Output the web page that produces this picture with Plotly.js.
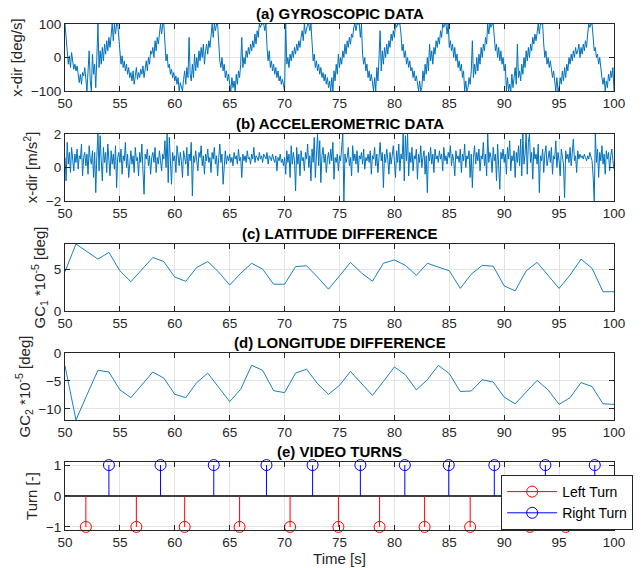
<!DOCTYPE html>
<html>
<head>
<meta charset="utf-8">
<script src="https://cdn.plot.ly/plotly-3.0.1.min.js"></script>
<style>html,body{margin:0;padding:0;background:#fff;}#chart{width:644px;height:568px;}</style>
</head>
<body>
<div id="chart"></div>
<script>
// ---------- DATA ----------
const sampleStart = 50;
const sampleStep = 0.1;
const gyroValues = [
100,60,10,-20,5,-30,15,-10,-35,-20,
-40,-25,-60,-75,-50,-80,-45,-55,-30,-60,
-100,-40,20,-70,-100,10,-50,-20,-90,0,
100,-30,20,-20,30,-10,40,10,50,20,
60,30,80,100,50,100,70,100,100,60,
10,-20,5,-30,-10,-40,-20,-50,-30,-60,
-45,-70,-40,-80,-55,-30,-65,-45,-60,-35,
-50,-25,-60,-30,-10,-40,0,-20,20,10,
30,0,50,20,60,40,80,100,70,100,
100,40,-10,10,-30,-20,-50,-35,-60,-45,
-70,-55,-80,-60,-100,-75,-90,-100,-65,-40,
-80,-30,-60,60,-50,-70,-20,-60,10,-40,
0,-30,20,-10,30,0,40,-20,20,40,
10,50,30,70,100,60,100,80,100,100,
40,-10,-30,0,-40,-20,-60,-40,-70,-50,
-80,-100,-60,-90,-70,-100,-50,-80,-40,-60,
-20,60,-30,0,-20,20,0,30,10,40,
20,50,30,70,40,80,60,100,90,100,
100,100,80,100,30,-10,20,-30,-10,-40,
-20,-50,-30,-60,-40,-70,-55,-80,-65,-90,
-100,100,-20,0,-30,10,-10,20,0,30,
10,40,20,50,30,60,80,50,100,70,
90,100,100,80,100,20,-10,10,-30,-10,
-40,-20,-50,-30,-60,-45,-70,-50,-80,-60,
-90,-70,-100,-60,-100,-40,-70,-20,-50,10,
-30,0,-20,20,0,40,10,50,30,60,
40,70,60,90,100,80,100,100,100,60,
100,10,-20,0,-40,-20,-60,-40,-70,-50,
-80,-100,-60,-100,-30,-70,0,80,-40,20,
-20,30,0,40,10,50,30,70,50,80,
60,100,90,100,100,100,70,20,40,0,
20,-20,0,-30,-10,-40,-30,-60,-40,-70,
-55,-80,-100,-70,-100,-90,-40,-70,-20,-50,
0,-40,40,-10,20,-20,30,10,50,30,
60,40,80,60,100,90,100,100,70,100,
30,50,20,40,0,30,-10,10,-30,-10,
-40,-20,-60,-40,-100,-70,-100,-90,-60,-80,
-40,50,-60,-20,-50,0,-40,10,-20,30,
0,40,20,60,40,100,70,100,90,100,
100,60,20,40,0,30,-10,20,-20,0,
-40,-20,-100,-60,-100,-80,-100,-50,-90,-60,
-30,-80,40,-60,-40,-70,-20,-50,0,-30,
20,-10,30,0,40,20,60,40,70,50,
80,100,70,100,100,100,40,0,20,-20,
0,-30,-10,-40,-60,-40,-70,-100,-60,-100,
-90,-60,-80,-40,-70,-30,-60,-20,-40,0,
-20,10,-10,20,0,30,10,20,40,0,
30,10,40,20,50,30,70,100,90,100,
100,40,20,30,0,10,-20,0,-40,-60,
-80,-60,-100,-70,-90,-50,-70,-40,-60,-30,
-100
];
const accelValues = [
0.6,-0.8,1.5,0.2,0.9,-0.3,1.2,0.4,-0.2,0.8,
0.3,1.1,-0.1,0.7,0.5,1.4,-0.5,0.6,0.9,0.1,
0.8,-0.4,1.3,0.5,0.2,1.0,-0.6,0.9,-1.5,0.7,
2.0,-0.2,1.9,0.4,-0.8,1.2,0.3,0.9,-0.3,1.4,
0.5,-0.5,1.0,0.2,0.8,-0.1,1.3,-1.2,0.6,0.9,
0.3,1.1,-0.4,0.7,0.4,1.5,0.0,0.8,-0.6,0.5,
1.0,0.2,0.7,-0.3,1.2,0.4,0.6,-0.5,0.9,0.3,
1.4,-0.2,-1.6,0.8,0.5,1.1,0.1,0.7,-0.4,0.6,
0.9,0.3,1.2,-0.3,0.6,0.2,1.0,0.4,-0.2,0.8,
0.5,1.6,0.0,2.0,-0.9,1.8,0.3,-1.0,0.9,0.4,
0.7,-0.3,1.3,0.5,0.1,0.9,0.4,-0.6,1.0,0.6,
0.2,1.2,-0.5,0.8,0.4,1.5,-1.7,0.7,0.3,1.0,
0.5,-0.2,0.9,0.6,1.3,0.1,0.7,-0.4,0.8,0.4,
1.1,0.3,0.6,-0.3,0.9,0.5,1.2,0.2,0.7,-0.5,
0.6,1.4,0.3,0.8,-1.0,0.5,1.0,0.2,0.7,0.4,
0.8,0.3,0.6,0.1,0.9,0.5,0.7,0.2,1.1,0.4,
0.6,-0.6,0.8,0.4,0.7,0.3,1.0,0.5,0.6,0.2,
0.8,0.5,1.2,0.3,0.7,0.6,0.4,0.9,0.5,0.7,
0.3,0.8,0.6,0.5,0.9,0.2,0.7,0.6,0.4,0.8,
0.5,0.3,0.7,-0.2,0.6,0.4,0.8,0.3,0.5,0.1,
0.6,-0.4,1.0,0.3,0.8,-0.6,1.3,0.2,0.9,0.4,
-1.4,1.2,0.2,0.8,-0.5,1.0,0.4,0.6,-0.2,0.9,
0.5,1.4,0.0,0.7,-0.8,1.1,0.3,1.8,-0.6,0.6,
2.0,0.1,1.6,-0.9,0.7,1.2,0.3,0.8,-0.3,0.5,
0.9,0.2,1.1,0.4,1.5,-0.7,0.6,0.3,0.8,-0.2,
0.7,0.4,1.0,2.0,-2.0,0.8,0.3,0.6,1.2,0.1,
0.6,-0.5,1.3,0.4,0.8,0.2,1.0,-0.3,0.7,0.5,
0.9,0.2,1.1,-0.1,0.6,0.4,0.8,0.3,1.0,-0.4,
0.7,0.5,1.2,0.1,0.8,-0.3,0.6,1.5,0.4,0.9,
-1.2,0.8,0.3,1.1,0.5,-0.4,0.9,0.2,0.7,1.3,
0.4,-0.6,1.0,0.3,1.4,-0.2,0.8,0.5,2.0,-0.8,
1.9,0.4,2.0,-0.5,0.9,0.3,1.2,-0.2,0.7,0.5,
1.1,-0.7,0.8,0.3,1.3,0.0,0.6,1.0,-0.4,0.7,
-1.5,0.9,0.4,1.2,0.2,0.8,-0.3,1.1,0.5,0.7,
0.3,1.0,0.5,0.8,-0.2,1.2,0.4,0.7,0.2,0.9,
0.6,1.3,0.1,0.8,0.4,-0.5,1.0,0.5,0.7,0.3,
1.1,-0.3,0.8,0.4,1.4,0.0,0.7,0.5,1.0,-0.6,
0.8,-1.2,0.6,1.3,0.2,0.9,0.4,1.1,-0.2,0.7,
0.5,1.5,0.1,0.8,-0.5,2.0,0.3,0.9,0.6,-0.3,
1.2,0.4,0.8,-0.8,1.4,0.2,-1.3,0.9,0.5,1.1,
0.3,0.8,-0.4,1.2,0.5,1.6,-0.2,0.7,0.4,1.0,
-0.6,0.9,0.3,1.3,0.1,1.7,-0.5,2.0,0.2,0.8,
2.0,-0.4,1.5,2.0,0.3,0.9,-0.7,1.2,0.5,0.8,
0.2,1.4,-1.5,0.7,0.4,1.1,-0.3,0.8,1.3,0.1,
0.6,1.0,0.3,1.2,-0.4,0.7,0.5,1.6,0.0,0.9,
0.4,-0.5,1.1,0.6,0.2,-1.8,1.0,0.5,0.8,0.3,
1.2,0.1,0.9,1.7,0.4,0.7,-0.3,1.0,0.5,0.8,
0.6,0.7,0.5,0.8,0.6,0.4,0.7,0.5,0.9,0.6,
0.4,-0.5,-2.0,2.0,0.3,1.1,-0.6,0.9,0.4,1.3,
0.2,0.8,-0.4,1.0,0.5,0.9,-0.2,0.7,1.1,0.4,
-0.1
];
const gpsTimes = [50,51,52,53,54,55,56,57,58,59,60,61,62,63,64,65,66,67,68,69,70,71,72,73,74,75,76,77,78,79,80,81,82,83,84,85,86,87,88,89,90,91,92,93,94,95,96,97,98,99,100];
const latValues = [4.7,8.0,7.1,6.2,7.0,4.8,3.5,5.0,6.4,5.9,4.05,3.55,5.2,5.9,4.65,3.1,4.5,5.7,5.0,3.2,3.2,5.3,5.4,4.05,2.6,4.2,5.8,4.55,3.55,5.7,6.1,5.45,4.25,5.7,5.25,4.8,2.7,4.4,5.45,5.35,3.0,2.4,4.8,5.8,4.25,2.7,4.3,6.2,5.1,2.3,2.3];
const lonValues = [-2.3,-12,-7.5,-3.1,-3.4,-6.6,-8.0,-5.7,-3.4,-4.5,-7.4,-8.0,-5.3,-3.6,-6.1,-8.7,-6.5,-2.2,-3.1,-6.75,-7.1,-3.6,-2.9,-5.5,-7.4,-5.8,-3.3,-5.4,-7.6,-5.1,-2.5,-3.9,-6.6,-4.8,-2.2,-3.7,-6.9,-6.8,-4.8,-5.2,-7.9,-9.1,-6.9,-4.9,-6.6,-9.2,-8.0,-5.3,-6.0,-9.1,-9.2];
const leftTurnTimes = [51.9,56.5,60.9,65.9,70.5,74.9,78.65,82.75,86.9,92.35,95.6];
const rightTurnTimes = [54.0,58.7,63.55,68.35,72.55,76.9,80.95,84.95,89.1,93.75,98.25];
const panelTitles = ['(a) GYROSCOPIC DATA','(b) ACCELEROMETRIC DATA','(c) LATITUDE DIFFERENCE','(d) LONGITUDE DIFFERENCE','(e) VIDEO TURNS'];
const yTitles = ['x-dir [deg/s]','x-dir [m/s<sup>2</sup>]','GC<sub>1</sub> *10<sup>-5</sup> [deg]','GC<sub>2</sub> *10<sup>-5</sup> [deg]','Turn [-]'];
const xTickVals = [50,55,60,65,70,75,80,85,90,95,100];
const yTickSets = [[-100,0,100],[-2,0,2],[0,5],[-10,-5,0],[-1,0,1]];
const yRanges = [[-100,100],[-2,2],[0,8],[-12,0],[-1.1,1.1]];

// ---------- BUILD ----------
const sampleTimes = gyroValues.map((_, i) => +(sampleStart + i * sampleStep).toFixed(2));
const blue = '#0072BD';
const font = '"Liberation Sans", Arial, Helvetica, sans-serif';
const axisColor = '#262626';
const gridColor = '#e3e3e3';

function stems(times, level, color, name) {
  const xs = [], ys = [], cs = [];
  times.forEach(t => {
    xs.push(t, t, null); ys.push(level, 0, null);
    cs.push(color, 'rgba(0,0,0,0)', 'rgba(0,0,0,0)');
  });
  return {
    x: xs, y: ys, xaxis: 'x5', yaxis: 'y5', name: name,
    mode: 'lines+markers', type: 'scatter', connectgaps: false,
    line: {color: color, width: 1},
    marker: {symbol: 'circle-open', size: 11, color: cs, line: {width: 1}},
    showlegend: true, cliponaxis: false
  };
}

const traces = [
  {x: sampleTimes, y: gyroValues, xaxis: 'x', yaxis: 'y', type: 'scatter', mode: 'lines', line: {color: blue, width: 1}, showlegend: false},
  {x: sampleTimes, y: accelValues, xaxis: 'x2', yaxis: 'y2', type: 'scatter', mode: 'lines', line: {color: blue, width: 1}, showlegend: false},
  {x: gpsTimes, y: latValues, xaxis: 'x3', yaxis: 'y3', type: 'scatter', mode: 'lines', line: {color: blue, width: 0.9}, showlegend: false},
  {x: gpsTimes, y: lonValues, xaxis: 'x4', yaxis: 'y4', type: 'scatter', mode: 'lines', line: {color: blue, width: 0.9}, showlegend: false},
  stems(leftTurnTimes, -1, '#ff0000', 'Left Turn'),
  stems(rightTurnTimes, 1, '#0000ff', 'Right Turn')
];

const domains = [[0.8676,1],[0.6502,0.7826],[0.4328,0.5652],[0.2174,0.3498],[0,0.1344]];
const layout = {
  width: 644, height: 568,
  margin: {l: 65, r: 29, t: 24, b: 38},
  paper_bgcolor: '#fff', plot_bgcolor: '#fff',
  font: {family: font, size: 13.5, color: axisColor},
  showlegend: true,
  legend: {x: 0.793, y: 0.1087, xanchor: 'left', yanchor: 'top', bgcolor: '#fff',
           bordercolor: axisColor, borderwidth: 1, font: {size: 14, color: '#000'},
           tracegroupgap: 0, itemwidth: 50},
  annotations: [],
  shapes: []
};
domains.forEach((d, i) => {
  const n = i === 0 ? '' : String(i + 1);
  layout['xaxis' + n] = {
    domain: [0, 1], anchor: 'y' + n, range: [50, 100],
    tickvals: xTickVals, ticks: 'inside', ticklen: 5, tickcolor: axisColor,
    showline: true, linecolor: axisColor, linewidth: 1, mirror: 'ticks',
    showgrid: true, gridcolor: gridColor, gridwidth: 1, zeroline: false,
    tickfont: {size: 13.5, color: axisColor}, fixedrange: true,
    title: i === 4 ? {text: 'Time [s]', font: {size: 15, color: axisColor}, standoff: 4} : undefined
  };
  layout['yaxis' + n] = {
    domain: d, anchor: 'x' + n, range: yRanges[i],
    tickvals: yTickSets[i], ticks: 'inside', ticklen: 5, tickcolor: axisColor,
    showline: true, linecolor: axisColor, linewidth: 1, mirror: 'ticks',
    showgrid: true, gridcolor: gridColor, gridwidth: 1,
    zeroline: i === 4, zerolinecolor: '#404040', zerolinewidth: 1.3,
    tickfont: {size: 13.5, color: axisColor}, fixedrange: true,
    title: {text: yTitles[i], font: {size: 15, color: axisColor}, standoff: 4}
  };
  layout.annotations.push({
    text: '<b>' + panelTitles[i] + '</b>', xref: 'paper', yref: 'paper',
    x: 0.5, y: d[1], xanchor: 'center', yanchor: 'bottom', yshift: 0,
    showarrow: false, font: {size: 15, color: '#000', family: font}
  });
});

Plotly.newPlot('chart', traces, layout, {displayModeBar: false, staticPlot: true});
</script>
</body>
</html>
